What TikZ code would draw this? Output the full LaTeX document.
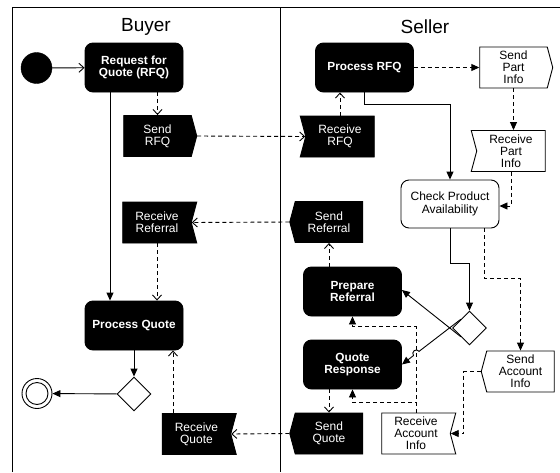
\documentclass[tikz,border=0pt]{standalone}
\usepackage{fontspec}
\setmainfont{Liberation Sans}
\usetikzlibrary{arrows.meta,shapes.geometric,shapes.symbols,calc}

\begin{document}
\begin{tikzpicture}[x=1pt, y=-1pt,
        activity/.style={draw, fill=black, text=white, rounded corners=8pt, line width=0.9pt,
            minimum width=98pt, minimum height=49pt, align=center, inner sep=2pt,
            font=\fontsize{11.8}{12}\selectfont\bfseries},
        availbox/.style={draw, fill=white, rounded corners=8pt, line width=0.9pt,
            minimum width=98pt, minimum height=48pt, align=center,
            font=\fontsize{12}{12.5}\selectfont},
        sendsig/.style={draw, fill=white, signal, signal to=#1, signal pointer angle=150,
            line width=0.9pt, minimum width=73pt, minimum height=41pt, align=center,
            inner sep=1pt, font=\fontsize{12}{12}\selectfont},
        recvsig/.style={draw, fill=white, signal, signal to=nowhere, signal from=#1,
            signal pointer angle=150, line width=0.9pt, minimum width=74pt, minimum height=41pt,
            align=center, inner sep=1pt, font=\fontsize{12}{12}\selectfont},
        dark/.style={fill=black, text=white},
        decision/.style={draw, fill=white, diamond, minimum size=34pt, inner sep=0pt, line width=0.9pt},
        endstate/.style={draw, fill=white, circle, minimum size=30pt, inner sep=0pt, line width=0.9pt,
            path picture={\draw[line width=0.9pt] (path picture bounding box.center) circle[radius=11pt];}},
        flow/.style={-{Triangle[length=8pt,width=7pt]}, line width=0.9pt},
        dflow/.style={flow, dash pattern=on 4pt off 3pt},
        objflow/.style={-{Straight Barb[length=5pt,width=9pt]}, line width=0.9pt, dash pattern=on 4pt off 3pt},
        lane/.style={line width=1pt},
        heading/.style={font=\fontsize{19}{21}\selectfont}
    ]
    \useasboundingbox (0,0) rectangle (560,472);

    % Lanes
    \draw[lane] (12,472) -- (12,7) -- (560,7);
    \draw[lane] (280,7) -- (280,472);
    \node[heading] (buyer) at (146,27) {Buyer};
    \node[heading] (seller) at (425,27) {Seller};

    % Nodes
    \node[draw, circle, fill=black, minimum size=31pt, inner sep=0pt] (start) at (36.5,68) {};
    \node[activity] (rfq) at (134,67.5) {Request for\\Quote (RFQ)};
    \node[activity] (procrfq) at (364.5,67.5) {Process RFQ};
    \node[activity] (procquote) at (134,325.5) {Process Quote};
    \node[activity] (prepref) at (352.5,291.5) {Prepare\\Referral};
    \node[activity] (quoteresp) at (352.5,364.5) {Quote\\Response};
    \node[availbox] (avail) at (450,204) {Check Product\\Availability};
    \node[decision] (decbuy) at (134,394) {};
    \node[decision] (decsell) at (469.5,328) {};
    \node[endstate] (stop) at (37,393.5) {};

    \node[sendsig=east, dark] (sendrfq) at (157.5,136) {Send\\RFQ};
    \node[recvsig=west, dark] (recvrfq) at (340,136.5) {Receive\\RFQ};
    \node[recvsig=east, dark] (recvref) at (157,222.5) {Receive\\Referral};
    \node[sendsig=west, dark] (sendref) at (329,222) {Send\\Referral};
    \node[recvsig=east, dark] (recvquote) at (196.5,434) {Receive\\Quote};
    \node[sendsig=west, dark] (sendquote) at (329,433.5) {Send\\Quote};
    \node[sendsig=east] (sendpart) at (513.5,67.5) {Send\\Part\\Info};
    \node[recvsig=west] (recvpart) at (511,151) {Receive\\Part\\Info};
    \node[sendsig=west] (sendacct) at (520.5,371.5) {Send\\Account\\Info};
    \node[recvsig=east] (recvacct) at (416,433.5) {Receive\\Account\\Info};

    % Arrows
    \draw[objflow, solid] (start) -- (rfq);
    \draw[objflow] (sendrfq.north |- rfq.south) -- (sendrfq.north);
    \draw[objflow] (sendrfq.east) -- (recvrfq.west);
    \draw[objflow] (recvrfq.north) -- (recvrfq.north |- procrfq.south);
    \draw[dflow] (procrfq.east) -- (sendpart.west);
    \draw[dflow] (sendpart.south) -- (sendpart.south |- recvpart.north);
    \draw[dflow] (recvpart.south) |- ([yshift=-2pt]avail.east);
    \draw[flow] (procrfq.south) -- ++(0,12) -| (avail.north);
    \draw[flow] ([xshift=-24pt]rfq.south) -- ([xshift=-24pt]procquote.north);
    \draw[objflow] (sendref.west) -- (recvref.east);
    \draw[objflow] (recvref.south) -- (recvref.south |- procquote.north);
    \draw[objflow] (sendref.south |- prepref.north) -- (sendref.south);
    \draw[flow] (avail.south) -- ++(0,35) -| (decsell.north);
    \draw[dflow] ([xshift=34pt]avail.south) -- ++(0,50) -| (sendacct.north);
    \draw[flow] ($(decsell.west)!0.5!(decsell.south)$) -- ([yshift=1.5pt]prepref.east);
    \coordinate (qsrc) at ($(decsell.west)!0.5!(decsell.north)$);
    \coordinate (hop) at ($(qsrc)!0.756!(quoteresp.east)$);
    \draw[flow] (qsrc) -- ($(hop)!3.5pt!(qsrc)$) arc[start angle=37.1, end angle=217.1, radius=3.5pt] -- (quoteresp.east);
    \draw[dflow] (recvacct.north) -- ++(0,-86) -| (prepref.south);
    \draw[dflow] (recvacct.north) -- ++(0,-10) -| (quoteresp.south);
    \draw[dflow] (sendacct.west) -- ++(-17,0) |- (recvacct.east);
    \draw[objflow] (sendquote.north |- quoteresp.south) -- (sendquote.north);
    \draw[objflow] (sendquote.west) -- (recvquote.east);
    \coordinate (pqin) at ([xshift=39pt]procquote.south);
    \draw[objflow] (pqin |- recvquote.north) -- (pqin);
    \draw[flow] (procquote) -- (decbuy);
    \draw[flow] (decbuy) -- (stop);

\end{tikzpicture}
\end{document}
